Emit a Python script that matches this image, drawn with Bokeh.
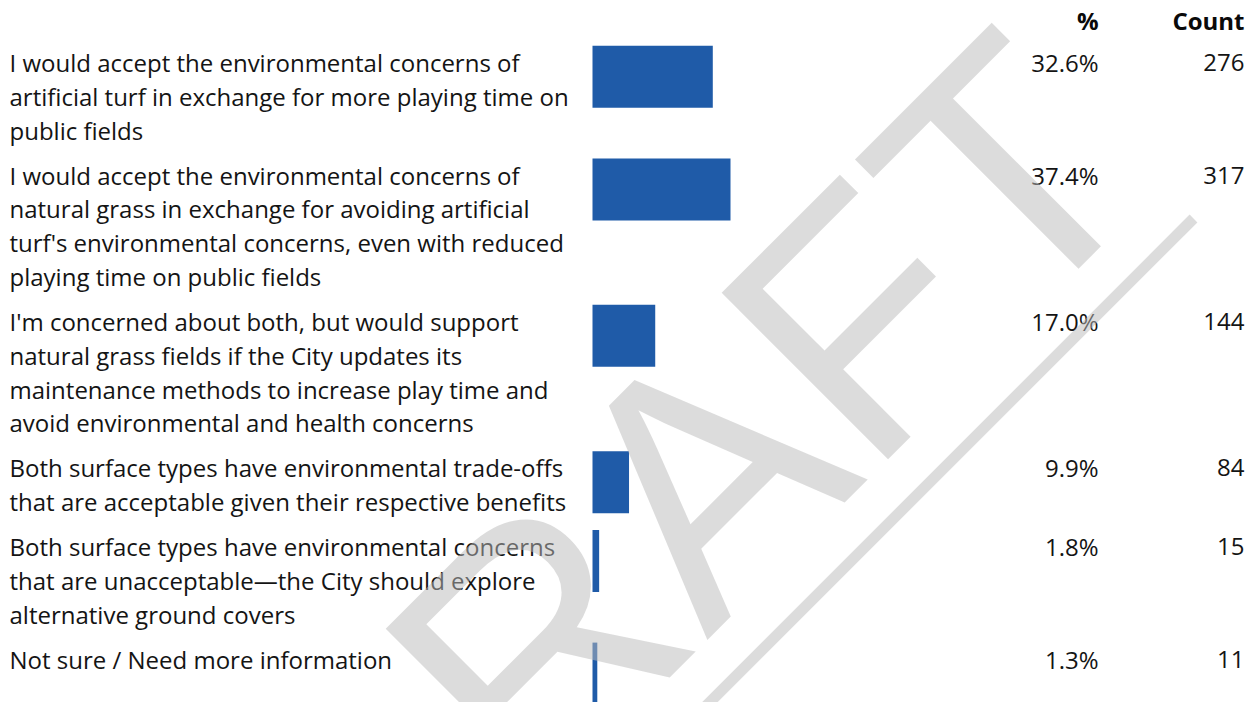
import numpy as np
from bokeh.plotting import figure
from bokeh.models import Range1d
from bokeh.core.properties import value
from bokeh.embed import file_html
from bokeh.resources import INLINE

# ---- data ----
labels = [
    "I would accept the environmental concerns of\nartificial turf in exchange for more playing time on\npublic fields",
    "I would accept the environmental concerns of\nnatural grass in exchange for avoiding artificial\nturf's environmental concerns, even with reduced\nplaying time on public fields",
    "I'm concerned about both, but would support\nnatural grass fields if the City updates its\nmaintenance methods to increase play time and\navoid environmental and health concerns",
    "Both surface types have environmental trade-offs\nthat are acceptable given their respective benefits",
    "Both surface types have environmental concerns\nthat are unacceptable\u2014the City should explore\nalternative ground covers",
    "Not sure / Need more information",
]
percents = [32.6, 37.4, 17.0, 9.9, 1.8, 1.3]
counts = [276, 317, 144, 84, 15, 11]
headers = ["%", "Count"]
watermark = "DRAFT"

# ---- layout / style ----
W, H = 1252, 702
FONT = "Open Sans"
FS = "24px"
LINE_H = 33.8
ROW_GAP = 11.2
FIRST_Y = 62.0
LABEL_X = 9
BAR_X0 = 592
PX_PER_PCT = 3.69
BAR_H = 62
BAR_OFF = 16.7
PCT_RIGHT = 1098
CNT_RIGHT = 1244
HEADER_Y = 20
TEXT_COLOR = "#141414"
BAR_COLOR = "#1f5ba8"
WM_COLOR = "#bababa"
WM_ALPHA = 0.51

p = figure(width=W, height=H, x_range=Range1d(0, W), y_range=Range1d(H, 0),
           output_backend="svg", toolbar_location=None,
           x_axis_location=None, y_axis_location=None,
           min_border=0, min_border_left=0, min_border_right=0,
           min_border_top=0, min_border_bottom=0)
p.grid.visible = False
p.outline_line_color = None
p.background_fill_color = "white"
p.border_fill_color = "white"
p.extra_x_ranges = {"pct": Range1d(-BAR_X0 / PX_PER_PCT, (W - BAR_X0) / PX_PER_PCT)}

# row positions
row_y = []
y = FIRST_Y
for lab in labels:
    row_y.append(y)
    y += len(lab.split("\n")) * LINE_H + ROW_GAP

line_x, line_y, line_t = [], [], []
for lab, ry in zip(labels, row_y):
    for i, ln in enumerate(lab.split("\n")):
        line_x.append(LABEL_X)
        line_y.append(ry + i * LINE_H)
        line_t.append(ln)

p.text(x=line_x, y=line_y, text=line_t, text_font=value(FONT), text_font_size=FS,
       text_color=TEXT_COLOR, text_align="left", text_baseline="middle")

bar_y = [ry - BAR_OFF + BAR_H / 2 for ry in row_y]
p.hbar(y=bar_y, left=0, right=percents, height=BAR_H, x_range_name="pct",
       fill_color=BAR_COLOR, line_color=None)

p.text(x=[PCT_RIGHT] * len(percents), y=row_y, text=[f"{v:.1f}%" for v in percents],
       text_font=value(FONT), text_font_size=FS, text_color=TEXT_COLOR,
       text_align="right", text_baseline="middle")
p.text(x=[CNT_RIGHT] * len(counts), y=row_y, text=[str(c) for c in counts],
       text_font=value(FONT), text_font_size=FS, text_color=TEXT_COLOR,
       text_align="right", text_baseline="middle")

p.text(x=[PCT_RIGHT, CNT_RIGHT], y=[HEADER_Y, HEADER_Y], text=headers,
       text_font=value(FONT), text_font_size=FS, text_font_style="bold",
       text_color="#0a0a0a", text_align="right", text_baseline="middle")

# watermark
p.text(x=[1079], y=[99], text=[watermark], angle=np.pi / 4,
       text_align="right", text_baseline="alphabetic", text_font=value("Liberation Sans"),
       text_font_size="342px", text_color=WM_COLOR, text_alpha=WM_ALPHA)
p.line(x=[1193, 393], y=[218, 1018], line_width=11, line_color=WM_COLOR,
       line_alpha=WM_ALPHA, line_cap="butt")

open("out.html", "w").write(file_html(p, INLINE))
